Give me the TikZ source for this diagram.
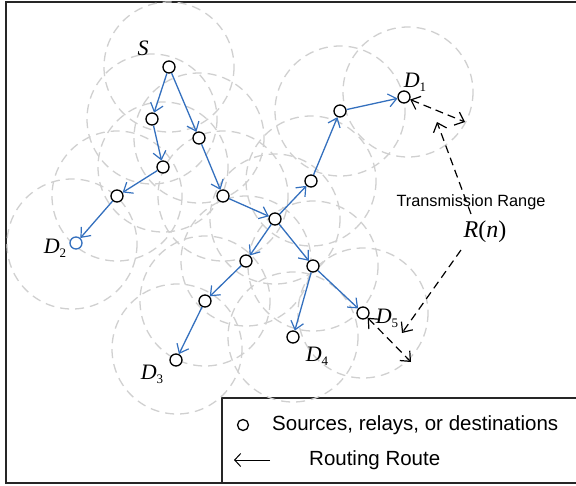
\documentclass[tikz,border=0pt]{standalone}
\usepackage{fontspec}
\setmainfont{Liberation Serif}
\newfontfamily\lsans{Liberation Sans}
\usetikzlibrary{arrows.meta}
\definecolor{routeblue}{RGB}{52,112,190}
\definecolor{rangegray}{RGB}{208,208,208}
\newcommand{\Dlab}[1]{{\fontsize{22}{22}\selectfont\textit{D}\raisebox{-4pt}{\fontsize{13}{13}\selectfont #1}}}
\begin{document}
\begin{tikzpicture}[x=1pt,y=-1pt,
  rangecircle/.style={draw=rangegray,dash pattern=on 9pt off 6pt,line width=1.3pt},
  netnode/.style={circle,draw=black,fill=white,line width=1.3pt,minimum size=12pt,inner sep=0pt},
  route/.style={draw=routeblue,line width=1.3pt,-{Straight Barb[length=8pt,width=13pt,line width=1.2pt]}},
  rangearrow/.style={draw=black,line width=1.2pt,dash pattern=on 8pt off 5pt},
  tip/.tip={Straight Barb[length=8pt,width=14pt]},
  lbl/.style={inner sep=0pt}]
\useasboundingbox (0,0) rectangle (576,485);
% frame
\draw[line width=1.4pt,draw=black!85] (578,2) -- (6,2) -- (6,483) -- (578,483);
% legend box
\draw[line width=1.3pt,draw=black!85] (578,398) -- (222,398) -- (222,483);
% range circles
\foreach \p in {(169,67),(152,119),(199,138),(163,167),(117,196),(223,196),(275,219),(311,181),(340,111),(408,92),(72,244),(246,261),(205,301),(177,349),(313,266),(293,337),(363,313)}
  \draw[rangecircle] \p circle (65);
% nodes
\node[netnode] (S) at (169,67) {};
\node[netnode] (a) at (152,119) {};
\node[netnode] (b) at (199,138) {};
\node[netnode] (c) at (163,167) {};
\node[netnode] (d) at (117,196) {};
\node[netnode] (e) at (223,196) {};
\node[netnode] (f) at (275,219) {};
\node[netnode] (g) at (311,181) {};
\node[netnode] (h) at (340,111) {};
\node[netnode] (D1) at (404,97) {};
\node[netnode,draw=routeblue] (D2) at (76,243) {};
\node[netnode] (i) at (246,261) {};
\node[netnode] (j) at (205,301) {};
\node[netnode] (D3) at (176,360) {};
\node[netnode] (k) at (313,266) {};
\node[netnode] (D4) at (293,337) {};
\node[netnode] (D5) at (363,313) {};
% routes
\draw[route] (S) -- (a);
\draw[route] (S) -- (b);
\draw[route] (a) -- (c);
\draw[route] (c) -- (d);
\draw[route] (d) -- (D2);
\draw[route] (b) -- (e);
\draw[route] (e) -- (f);
\draw[route] (f) -- (g);
\draw[route] (g) -- (h);
\draw[route] (h) -- (D1);
\draw[route] (f) -- (i);
\draw[route] (i) -- (j);
\draw[route] (j) -- (D3);
\draw[route] (f) -- (k);
\draw[route] (k) -- (D4);
\draw[route] (k) -- (D5);
% labels
\node[lbl] (lS) at (143,48) {\fontsize{22}{22}\selectfont\textit{S}};
\node[lbl] (lD1) at (415,82) {\Dlab{1}};
\node[lbl] (lD2) at (55,248) {\Dlab{2}};
\node[lbl] (lD3) at (152,374) {\Dlab{3}};
\node[lbl] (lD4) at (317,356) {\Dlab{4}};
\node[lbl] (lD5) at (387,318) {\Dlab{5}};
% transmission range
\coordinate (r1) at (465,122);
\coordinate (r2) at (437,122);
\coordinate (r3) at (471,214);
\coordinate (r4) at (461,250);
\coordinate (r5) at (402,333);
\coordinate (r6) at (411,362);
\draw[rangearrow,{tip}-{tip}] (D1) -- (r1);
\draw[rangearrow,{tip}-{tip}] (D5) -- (r6);
\draw[rangearrow,-{tip}] (r3) -- (r2);
\draw[rangearrow,-{tip}] (r4) -- (r5);
\node[lbl] (tr) at (471,202) {\lsans\fontsize{16.3}{16.3}\selectfont Transmission Range};
\node[lbl] (Rn) at (485,232) {\fontsize{24}{24}\selectfont\textit{R}(\textit{n})};
% legend
\node[netnode,minimum size=11pt] (legc) at (243,425) {};
\node[lbl,anchor=west] (legt1) at (272,425) {\lsans\fontsize{20.5}{20.5}\selectfont Sources, relays, or destinations};
\coordinate (la1) at (270,460);
\coordinate (la2) at (234,460);
\draw[line width=1pt,-{Straight Barb[length=6pt,width=13pt]}] (la1) -- (la2);
\node[lbl,anchor=west] (legt2) at (309,460) {\lsans\fontsize{20.5}{20.5}\selectfont Routing Route};
\end{tikzpicture}
\end{document}
